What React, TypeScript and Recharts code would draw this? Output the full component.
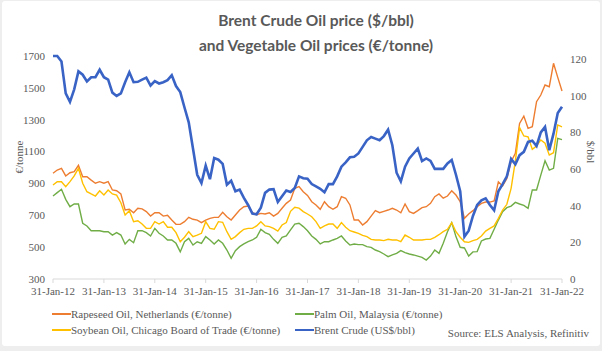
import { LineChart, Line, XAxis, YAxis } from "recharts";

// month-end labels, Jan-2012 .. Jan-2022
const monthNames = ["Jan", "Feb", "Mar", "Apr", "May", "Jun", "Jul", "Aug", "Sep", "Oct", "Nov", "Dec"];
const months = Array.from({ length: 121 }, (_, i) => {
  const y = 2012 + Math.floor(i / 12);
  const mo = i % 12;
  const d = new Date(y, mo + 1, 0).getDate();
  return `${d}-${monthNames[mo]}-${String(y).slice(2)}`;
});

// €/tonne
const rapeseed = [
  964, 984, 995, 947, 967, 974, 1014, 942, 942, 921, 901, 911,
  901, 911, 859, 854, 834, 733, 738, 716, 744, 740, 723, 695,
  716, 716, 695, 700, 670, 643, 643, 660, 687, 675, 670, 654,
  670, 681, 687, 687, 719, 691, 670, 702, 733, 754, 758, 716,
  704, 712, 708, 716, 695, 712, 744, 775, 796, 869, 880, 848,
  825, 785, 765, 738, 785, 754, 738, 754, 817, 807, 765, 670,
  670, 639, 660, 695, 729, 716, 725, 733, 744, 733, 716, 771,
  723, 712, 729, 748, 754, 775, 817, 834, 807, 821, 854, 827,
  785, 681, 708, 729, 754, 775, 783, 783, 790, 910, 884, 931,
  1036, 1089, 1277, 1323, 1246, 1256, 1413, 1455, 1518, 1507, 1654, 1566,
  1480,
];
const palm = [
  821, 842, 863, 800, 754, 771, 771, 650, 633, 603, 603, 603,
  597, 597, 576, 591, 576, 520, 549, 528, 603, 603, 591, 570,
  618, 587, 570, 545, 545, 524, 470, 534, 555, 513, 534, 524,
  566, 545, 520, 545, 524, 482, 430, 478, 503, 520, 534, 545,
  562, 612, 591, 580, 549, 524, 562, 570, 608, 645, 650, 629,
  603, 570, 549, 520, 534, 534, 545, 555, 570, 539, 513, 520,
  516, 516, 503, 499, 482, 472, 457, 440, 451, 461, 478, 465,
  457, 451, 444, 436, 419, 444, 482, 461, 524, 597, 654, 566,
  499, 495, 444, 470, 472, 539, 551, 555, 612, 670, 723, 748,
  758, 781, 771, 762, 744, 859, 859, 952, 1042, 984, 995, 1183,
  1175,
];
const soybean = [
  890, 911, 911, 880, 911, 947, 995, 901, 848, 834, 821, 854,
  827, 859, 834, 827, 779, 702, 729, 660, 666, 645, 618, 618,
  660, 645, 660, 625, 625, 591, 534, 562, 597, 566, 576, 587,
  660, 618, 612, 660, 656, 597, 549, 566, 591, 612, 618, 618,
  633, 660, 633, 629, 618, 601, 639, 654, 725, 750, 745, 723,
  708, 691, 660, 618, 633, 645, 645, 618, 654, 625, 603, 595,
  587, 574, 566, 549, 545, 545, 541, 549, 545, 545, 534, 576,
  562, 545, 545, 545, 549, 549, 562, 578, 597, 612, 654, 597,
  562, 534, 530, 541, 549, 570, 601, 618, 633, 681, 733, 769,
  869, 1040, 1250, 1198, 1193, 1114, 1135, 1173, 1152, 1078, 1093, 1267,
  1255,
];
// US$/bbl
const brent = [
  121.7, 121.7, 118.7, 101.3, 96.7, 103.5, 113.3, 111.5, 107.8, 110.1, 110.1, 114.2,
  110.1, 108.8, 101.7, 99.9, 101.3, 107.4, 112.8, 107.4, 107.6, 108.8, 109.9, 105.6,
  108, 106.7, 107.4, 108.5, 111.2, 105.3, 102, 93.6, 85.5, 71.2, 56.9, 52.4,
  61.9, 54.5, 66, 65.1, 62.8, 51.5, 53.6, 47.9, 48.8, 44.3, 40.4, 35.7,
  35.3, 38.9, 47, 48.8, 49, 42, 45.2, 48.3, 47.5, 49.7, 56, 55,
  54.7, 51.8, 50.5, 49.2, 47.3, 51.8, 51.8, 56, 61.3, 63.7, 66.4, 66.7,
  68.5, 72.1, 75.7, 77.5, 76.6, 75.7, 78, 81.5, 73, 58, 53.3, 61.3,
  65.8, 68.5, 71.2, 64.4, 65.8, 64.4, 60.1, 60.1, 60.1, 63.1, 65, 56.9,
  47.9, 23.1, 26.4, 34.4, 40.4, 42.9, 44, 40.4, 37.5, 47.9, 51.8, 56,
  65.5, 62.6, 67.6, 69.4, 74.8, 75.5, 72.6, 80, 83, 70.3, 79.3, 90.6,
  94,
];

const leftTicks = [300, 500, 700, 900, 1100, 1300, 1500, 1700];
const rightTicks = [0, 20, 40, 60, 80, 100, 120];

const series = [
  { key: "rapeseed", name: "Rapeseed Oil, Netherlands (€/tonne)", color: "#ED7D31", axis: "left", width: 1.4 },
  { key: "palm", name: "Palm Oil, Malaysia (€/tonne)", color: "#70AD47", axis: "left", width: 1.4 },
  { key: "soybean", name: "Soybean Oil, Chicago Board of Trade (€/tonne)", color: "#FFC000", axis: "left", width: 1.4 },
  { key: "brent", name: "Brent Crude (US$/bbl)", color: "#3A63C6", axis: "right", width: 2.6 },
];

const data = months.map((m, i) => ({
  month: m,
  rapeseed: rapeseed[i],
  palm: palm[i],
  soybean: soybean[i],
  brent: brent[i],
}));

const serif = "'Liberation Serif', 'Times New Roman', serif";
const grey = "#595959";
const tick = { fontSize: 11, fill: grey, fontFamily: serif };

export default function App() {
  return (
    <div style={{ position: "absolute", left: 0, top: 0, width: 602, height: 351, background: "#eeeeee" }}>
      <div
        style={{
          position: "absolute",
          left: 2,
          top: 1,
          width: 598,
          height: 345,
          background: "#fff",
          borderRadius: 3,
        }}
      />
      <div
        style={{
          position: "absolute",
          left: 0,
          top: 8,
          width: 632,
          textAlign: "center",
          fontFamily: "Lato, 'Open Sans', sans-serif",
          fontWeight: 700,
          fontSize: 15.5,
          lineHeight: "25px",
          color: grey,
        }}
      >
        Brent Crude Oil price ($/bbl)
        <br />
        and Vegetable Oil prices (€/tonne)
      </div>
      <div style={{ position: "absolute", left: 0, top: 0 }}>
        <LineChart width={602} height={351} data={data} margin={{ top: 56, right: 8, bottom: 50, left: 8 }}>
          <XAxis
            dataKey="month"
            interval={11}
            tick={tick}
            tickSize={4}
            tickMargin={4}
            stroke="#d9d9d9"
            height={22}
          />
          <YAxis
            yAxisId="left"
            domain={[300, 1700]}
            ticks={leftTicks}
            width={45}
            axisLine={false}
            tickLine={false}
            tick={tick}
            interval={0}
          />
          <YAxis
            yAxisId="right"
            orientation="right"
            domain={[0, 120]}
            ticks={rightTicks}
            width={32}
            axisLine={false}
            tickLine={false}
            tick={{ ...tick, textAnchor: "start" }}
            interval={0}
          />
          {series.map((s) => (
            <Line
              key={s.key}
              yAxisId={s.axis}
              dataKey={s.key}
              name={s.name}
              stroke={s.color}
              strokeWidth={s.width}
              dot={false}
              type="linear"
              isAnimationActive={false}
            />
          ))}
        </LineChart>
      </div>
      {/* axis titles */}
      <div
        style={{
          position: "absolute",
          left: 19,
          top: 157,
          transform: "translate(-50%, -50%) rotate(-90deg)",
          fontFamily: serif,
          fontSize: 11,
          color: grey,
          whiteSpace: "nowrap",
        }}
      >
        €/tonne
      </div>
      <div
        style={{
          position: "absolute",
          left: 591,
          top: 152,
          transform: "translate(-50%, -50%) rotate(90deg)",
          fontFamily: serif,
          fontSize: 11,
          color: grey,
          whiteSpace: "nowrap",
        }}
      >
        $/bbl
      </div>
      {/* legend: two columns, row-major */}
      {series.map((s, i) => (
        <div
          key={s.key}
          style={{
            position: "absolute",
            left: i % 2 === 0 ? 52 : 295,
            top: i < 2 ? 308 : 324,
            display: "flex",
            alignItems: "center",
            fontFamily: serif,
            fontSize: 11,
            color: grey,
            whiteSpace: "nowrap",
          }}
        >
          <span style={{ display: "inline-block", width: 19, height: 2, background: s.color }} />
          {s.name}
        </div>
      ))}
      <div
        style={{
          position: "absolute",
          right: 13,
          top: 327,
          fontFamily: serif,
          fontSize: 11,
          color: grey,
          whiteSpace: "nowrap",
        }}
      >
        Source: ELS Analysis, Refinitiv
      </div>
    </div>
  );
}
